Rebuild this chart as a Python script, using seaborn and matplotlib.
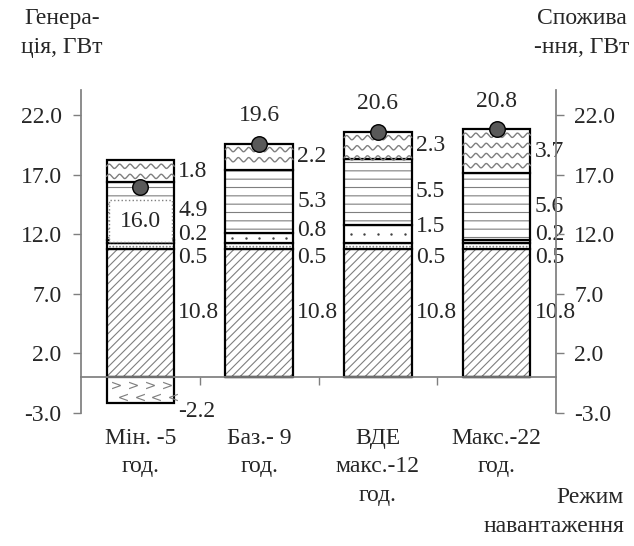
import numpy as np
import seaborn as sns
import matplotlib.pyplot as plt
from matplotlib.ticker import FormatStrFormatter

sns.set_theme(style="white")
plt.rcParams['font.family'] = ['Liberation Serif', 'DejaVu Serif']
plt.rcParams['hatch.linewidth'] = 0.8

# load modes (x categories)
modes = ["Мін. -5\nгод.", "Баз.- 9\nгод.", "ВДЕ\nмакс.-12\nгод.", "Макс.-22\nгод."]

# generation stack, GW (bottom -> top)
gen_1 = [10.8, 10.8, 10.8, 10.8]
gen_2 = [0.5, 0.5, 0.5, 0.5]
gen_3 = [0.2, 0.8, 1.5, 0.2]
gen_4 = [4.9, 5.3, 5.5, 5.6]
gen_5 = [1.8, 2.2, 2.3, 3.7]
gen_neg = [-2.2, 0.0, 0.0, 0.0]

# consumption, GW
consumption = [16.0, 19.6, 20.6, 20.8]

yticks = [-3.0, 2.0, 7.0, 12.0, 17.0, 22.0]

FS = 17
GRAY = '#7f7f7f'

fig = plt.figure(figsize=(6.34, 5.46), dpi=100)
ax = fig.add_axes([0.1278, 0.2436, 0.7492, 0.5916])

# layer: values, hatch, label offset (data units)
layers = [
    (gen_1, '////', 0.0),
    (gen_2, '.....', -1.0),
    (gen_3, None, 0.6),
    (gen_4, '--', 0.0),
    (gen_5, None, 0.0),
]

bottom = np.zeros(len(modes))
layer_patches = []
for vals, hatch, off in layers:
    n = len(ax.patches)
    sns.barplot(x=modes, y=vals, bottom=bottom, color='white', saturation=1,
                edgecolor=GRAY, linewidth=0, hatch=hatch, width=0.57,
                errorbar=None, ax=ax)
    patches = ax.patches[n:]
    layer_patches.append(patches)
    sns.barplot(x=modes, y=vals, bottom=bottom, color='black', fill=False,
                linewidth=1.6, width=0.57, errorbar=None, ax=ax)
    for i, p in enumerate(patches):
        ax.annotate(f"{vals[i]:.1f}", (p.get_x() + p.get_width(), bottom[i] + vals[i] / 2 + off),
                    xytext=(3, 0), textcoords='offset points', ha='left', va='center',
                    fontsize=FS, zorder=6)
    bottom = bottom + np.array(vals)

# sparse dots for the third layer
for p in layer_patches[2]:
    x0, y0 = p.get_x(), p.get_y()
    w, h = p.get_width(), p.get_height()
    if h < 0.5:
        continue
    xs = x0 + w * (np.arange(5) + 0.5) / 5
    yc = y0 + h / 2
    ax.scatter(xs, np.full(5, yc), s=3, color='#404040', lw=0, clip_path=p, zorder=3)

# negative part
n = len(ax.patches)
sns.barplot(x=modes, y=gen_neg, color='white', saturation=1, edgecolor=GRAY,
            linewidth=0, width=0.57, errorbar=None, ax=ax)
neg_patches = ax.patches[n:]
sns.barplot(x=modes, y=gen_neg, color='black', fill=False, linewidth=1.6,
            width=0.57, errorbar=None, ax=ax)
for i, p in enumerate(neg_patches):
    if gen_neg[i] == 0:
        continue
    x0, w, h = p.get_x(), p.get_width(), p.get_height()
    xa = x0 + w * (np.arange(4) + 0.55) / 4
    xb = x0 + w * (np.arange(4) + 0.95) / 4
    ax.scatter(xa, np.full(4, h * 0.3), marker='$>$', s=40, color=GRAY, lw=0, clip_path=p, zorder=3)
    ax.scatter(xb, np.full(4, h * 0.77), marker='$<$', s=40, color=GRAY, lw=0, clip_path=p, zorder=3)
    ax.annotate(f"{gen_neg[i]:.1f}", (x0 + w, h), xytext=(3, -6), textcoords='offset points',
                ha='left', va='center', fontsize=FS)

# wave pattern for the top generation layer
for p in layer_patches[-1]:
    x0, y0 = p.get_x(), p.get_y()
    w, h = p.get_width(), p.get_height()
    xs = np.linspace(x0, x0 + w, 300)
    yc = y0 + h - 0.5
    while yc > y0:
        ax.plot(xs, yc + 0.18 * np.sin(2 * np.pi * (xs - x0) / (w / 6.5)),
                color=GRAY, lw=1.0, clip_path=p, zorder=2)
        yc -= 0.85

# consumption points
sns.scatterplot(x=modes, y=consumption, s=125, color='#595959', edgecolor='black',
                linewidth=1.0, zorder=7, ax=ax, legend=False)
for i, v in enumerate(consumption):
    if i == 0:
        ax.annotate(f"{v:.1f}", (i, v), xytext=(0, -25), textcoords='offset points',
                    ha='center', va='center', fontsize=FS, zorder=8,
                    bbox=dict(boxstyle='square,pad=0.45', fc='white', ec=GRAY, ls=':', lw=1))
    else:
        ax.annotate(f"{v:.1f}", (i, v), xytext=(0, 20), textcoords='offset points',
                    ha='center', va='center', fontsize=FS, zorder=8)

# axes styling
ax.set_xlim(-0.5, 3.5)
ax.set_ylim(-3, 24.1)
ax.set_xlabel('')
ax.set_ylabel('')
ax.set_yticks(yticks)
ax.yaxis.set_major_formatter(FormatStrFormatter('%.1f'))
ax.tick_params(axis='y', direction='out', length=6, width=1, color=GRAY, pad=8,
               labelsize=FS, left=True)
ax.spines['top'].set_visible(False)
ax.spines['right'].set_visible(False)
ax.spines['left'].set_color(GRAY)
ax.spines['bottom'].set_color(GRAY)
ax.spines['bottom'].set_position(('data', 0))
ax.set_xticks([0.5, 1.5, 2.5], minor=True)
ax.tick_params(axis='x', which='major', length=0, labelbottom=False)
ax.tick_params(axis='x', which='minor', direction='out', length=6, width=1,
               color=GRAY, bottom=True)

sec = ax.secondary_xaxis('bottom')
sec.set_xticks(range(len(modes)), labels=modes)
sec.spines['bottom'].set_visible(False)
sec.tick_params(length=0, pad=11, labelsize=FS)
for t in sec.get_xticklabels():
    t.set_linespacing(1.45)

ax2 = ax.twinx()
ax2.set_ylim(ax.get_ylim())
ax2.set_yticks(yticks)
ax2.yaxis.set_major_formatter(FormatStrFormatter('%.1f'))
ax2.tick_params(axis='y', direction='out', length=6, width=1, color=GRAY, pad=7,
                labelsize=FS, right=True)
for s in ['top', 'left', 'bottom']:
    ax2.spines[s].set_visible(False)
ax2.spines['right'].set_color(GRAY)
ax2.grid(False)
ax.grid(False)

fig.text(62 / 634, 1 - 33 / 546, "Генера-\nція, ГВт", ha='center', va='center',
         fontsize=FS, linespacing=1.45)
fig.text(582 / 634, 1 - 33 / 546, "Спожива\n-ння, ГВт", ha='center', va='center',
         fontsize=FS, linespacing=1.45)
fig.text(624 / 634, 1 - 512 / 546, "Режим\nнавантаження", ha='right', va='center',
         fontsize=FS, linespacing=1.45, multialignment='right')

fig.savefig('out.png', dpi=100, facecolor='white')
